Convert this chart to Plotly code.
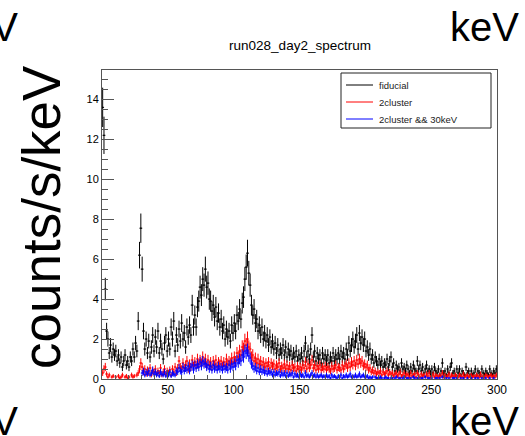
import math
import plotly.graph_objects as go

# Histogram binning (keV) and live time used for the statistical errors
E_MIN, E_MAX, BIN_W = 0.0, 300.0, 1.0
LIVE_TIME = 14.0  # s
n_bins = int((E_MAX - E_MIN) / BIN_W)
energy = [E_MIN + BIN_W * (i + 0.5) for i in range(n_bins)]

# counts/s/keV per 1 keV bin, ten bins per row
fiducial = [
    13.6, 12.2, 4.5, 2.4, 2.0, 1.3, 1.7, 1.1, 1.5, 1.2,
    1.4, 0.9, 1.2, 0.8, 1.1, 0.6, 0.9, 1.2, 0.7, 0.9,
    0.6, 1.1, 0.9, 1.5, 1.1, 1.8, 1.4, 2.9, 6.2, 7.55,
    5.5, 2.4, 1.5, 2.0, 1.3, 1.9, 1.1, 1.6, 2.2, 1.4,
    2.1, 1.6, 2.4, 1.3, 1.9, 1.5, 1.0, 1.8, 2.2, 1.4,
    2.0, 1.5, 2.6, 2.0, 2.9, 1.4, 2.2, 1.7, 2.5, 1.9,
    2.8, 2.0, 2.3, 1.6, 2.6, 2.1, 2.7, 2.2, 3.7, 2.6,
    3.2, 2.6, 3.6, 3.9, 4.6, 4.2, 5.0, 4.7, 5.5, 4.6,
    4.8, 4.0, 3.9, 3.4, 3.7, 3.1, 3.6, 2.9, 3.3, 2.6,
    3.0, 2.4, 2.7, 2.0, 2.5, 2.1, 2.4, 1.9, 2.7, 2.3,
    2.8, 2.4, 3.2, 2.9, 3.5, 3.0, 3.8, 4.1, 5.0, 5.6,
    6.3, 5.3, 4.7, 3.7, 3.2, 3.5, 2.8, 3.0, 2.4, 2.7,
    2.2, 2.6, 2.0, 2.3, 1.9, 2.2, 1.7, 2.1, 1.6, 1.9,
    1.5, 1.8, 1.3, 1.7, 1.2, 1.5, 1.3, 1.7, 1.2, 1.6,
    1.1, 1.5, 1.2, 1.4, 1.0, 1.3, 1.1, 1.4, 0.9, 1.2,
    1.0, 1.3, 0.9, 1.4, 1.8, 1.1, 1.4, 1.0, 1.5, 2.2,
    1.1, 1.4, 0.9, 1.3, 1.0, 1.2, 0.8, 1.3, 1.0, 1.2,
    0.9, 1.2, 0.8, 1.1, 0.9, 1.3, 0.9, 1.2, 1.0, 1.3,
    1.0, 1.4, 1.1, 1.3, 1.0, 1.5, 1.2, 1.8, 1.4, 1.7,
    2.0, 1.6, 1.9, 2.2, 1.5, 2.3, 1.8, 2.1, 1.7, 2.0,
    1.4, 1.6, 1.2, 1.5, 1.0, 1.2, 0.8, 1.1, 0.9, 0.7,
    1.0, 0.7, 0.9, 0.6, 0.8, 0.7, 1.0, 0.6, 0.9, 1.1,
    0.6, 0.8, 0.4, 0.7, 0.5, 0.6, 0.4, 0.8, 0.5, 0.6,
    0.4, 0.7, 0.5, 0.3, 0.6, 0.4, 0.7, 0.5, 0.4, 0.9,
    0.5, 0.7, 0.4, 0.6, 0.3, 0.5, 0.7, 0.4, 0.5, 0.3,
    0.5, 0.3, 0.6, 0.4, 0.3, 0.5, 0.2, 0.4, 0.8, 0.3,
    0.4, 0.2, 0.5, 0.3, 0.6, 0.8, 0.3, 0.4, 0.2, 0.5,
    0.3, 0.5, 0.2, 0.4, 0.3, 0.2, 0.6, 0.3, 0.4, 0.2,
    0.4, 0.2, 0.3, 0.5, 0.2, 0.4, 0.3, 0.2, 0.5, 0.3,
    0.2, 0.4, 0.3, 0.2, 0.5, 0.3, 0.2, 0.4, 0.3, 0.5,
]

# empty bins are left out (None)
two_cluster = [
    0.3, 0.5, 0.6, 0.25, 0.1, 0.2, None, 0.1, 0.15, None,
    0.1, None, 0.15, 0.05, 0.1, 0.2, None, 0.1, 0.15, 0.05,
    0.1, None, 0.2, 0.1, 0.15, None, 0.2, 0.3, 0.5, 0.8,
    0.6, 0.35, 0.5, 0.25, 0.45, 0.3, 0.55, 0.2, 0.4, 0.35,
    0.5, 0.25, 0.4, 0.3, 0.55, 0.2, 0.35, 0.5, 0.25, 0.4,
    0.3, 0.45, 0.2, 0.5, 0.35, 0.6, 0.3, 0.55, 0.9, 0.6,
    0.5, 0.8, 0.55, 0.7, 0.9, 0.5, 0.75, 0.6, 0.95, 0.65,
    0.85, 0.7, 1.0, 0.75, 0.95, 0.8, 1.1, 0.85, 1.0, 0.7,
    0.95, 0.7, 0.85, 0.6, 0.9, 0.7, 0.95, 0.65, 0.85, 0.75,
    0.9, 0.65, 0.85, 0.7, 1.0, 0.75, 0.9, 0.8, 1.05, 0.85,
    1.1, 0.9, 1.3, 1.1, 1.4, 1.2, 1.6, 1.5, 1.9, 1.7,
    2.0, 1.6, 1.5, 1.1, 1.2, 0.9, 1.05, 0.8, 1.0, 0.75,
    0.9, 0.7, 0.85, 0.6, 0.8, 0.65, 0.85, 0.55, 0.8, 0.65,
    0.75, 0.5, 0.7, 0.6, 0.8, 0.5, 0.65, 0.55, 0.75, 0.5,
    0.7, 0.5, 0.65, 0.45, 0.7, 0.55, 0.6, 0.4, 0.65, 0.5,
    0.6, 0.45, 0.7, 0.55, 0.85, 0.5, 0.75, 0.55, 0.7, 0.95,
    0.55, 0.7, 0.45, 0.65, 0.5, 0.7, 0.45, 0.6, 0.5, 0.65,
    0.45, 0.6, 0.5, 0.4, 0.65, 0.5, 0.55, 0.7, 0.45, 0.6,
    0.55, 0.45, 0.7, 0.5, 0.65, 0.75, 0.55, 0.8, 0.6, 0.85,
    0.7, 0.9, 0.65, 0.95, 0.75, 1.0, 0.8, 0.9, 0.65, 0.75,
    0.6, 0.7, 0.45, 0.55, 0.35, 0.45, 0.3, 0.4, 0.25, 0.35,
    0.3, 0.4, 0.2, 0.35, 0.25, 0.3, 0.4, 0.2, 0.35, 0.25,
    0.3, 0.15, 0.25, 0.3, 0.15, 0.25, 0.35, 0.15, 0.2, 0.3,
    0.15, 0.25, 0.2, 0.1, 0.3, 0.15, 0.2, 0.25, 0.1, 0.3,
    0.2, 0.1, 0.25, 0.15, 0.2, 0.1, 0.25, 0.15, 0.3, 0.1,
    0.15, 0.25, 0.1, 0.2, 0.15, 0.1, 0.2, 0.15, 0.3, 0.1,
    0.2, 0.1, 0.15, 0.25, 0.1, 0.2, 0.15, 0.1, 0.2, 0.15,
    0.1, 0.2, 0.15, 0.1, 0.25, 0.1, 0.15, 0.2, 0.1, 0.15,
    0.2, 0.1, 0.15, 0.1, 0.2, 0.15, 0.1, 0.25, 0.1, 0.15,
    0.1, 0.2, 0.15, 0.1, 0.15, 0.2, 0.1, 0.15, 0.1, 0.2,
]

# nothing is kept below 30 keV
two_cluster_30kev = [None] * 30 + [
    0.3, 0.4, 0.2, 0.35, 0.25, 0.4, 0.2, 0.3, 0.45, 0.25,
    0.35, 0.2, 0.3, 0.15, 0.35, 0.25, 0.2, 0.35, 0.15, 0.3,
    0.2, 0.35, 0.15, 0.3, 0.25, 0.2, 0.4, 0.35, 0.55, 0.4,
    0.35, 0.6, 0.4, 0.55, 0.45, 0.65, 0.4, 0.6, 0.7, 0.45,
    0.7, 0.55, 0.75, 0.6, 0.85, 0.65, 0.9, 0.75, 0.8, 0.6,
    0.7, 0.5, 0.65, 0.45, 0.7, 0.5, 0.6, 0.45, 0.65, 0.5,
    0.6, 0.45, 0.65, 0.5, 0.6, 0.45, 0.7, 0.5, 0.75, 0.6,
    0.8, 0.65, 0.95, 0.8, 1.0, 0.9, 1.2, 1.1, 1.4, 1.3,
    1.45, 1.15, 1.05, 0.75, 0.65, 0.5, 0.6, 0.4, 0.55, 0.35,
    0.5, 0.35, 0.45, 0.3, 0.4, 0.25, 0.4, 0.3, 0.35, 0.2,
    0.35, 0.2, 0.3, 0.25, 0.35, 0.15, 0.3, 0.2, 0.3, 0.15,
    0.3, 0.15, 0.25, 0.2, 0.3, 0.1, 0.25, 0.15, 0.2, 0.1,
    0.25, 0.15, 0.2, 0.1, 0.3, 0.15, 0.2, 0.1, 0.2, 0.3,
    0.15, 0.2, 0.1, 0.2, 0.1, 0.15, 0.2, 0.1, 0.15, 0.1,
    0.2, 0.1, 0.15, 0.05, 0.2, 0.1, 0.15, 0.1, 0.05, 0.15,
    0.1, 0.2, 0.05, 0.15, 0.1, 0.2, 0.1, 0.15, 0.25, 0.1,
    0.15, 0.1, 0.2, 0.1, 0.15, 0.25, 0.1, 0.15, 0.2, 0.1,
    0.1, 0.15, 0.05, 0.1, 0.05, 0.1, None, 0.1, 0.05, 0.05,
    0.05, 0.1, 0.05, None, 0.05, 0.1, 0.05, 0.05, None, 0.05,
    0.05, None, 0.05, 0.1, None, 0.05, 0.05, None, 0.05, 0.1,
    None, 0.05, 0.05, None, 0.05, None, 0.1, 0.05, None, 0.05,
    0.05, None, 0.05, 0.05, None, 0.1, None, 0.05, 0.05, None,
    0.05, None, None, 0.05, 0.05, None, 0.05, None, 0.1, None,
    None, 0.05, None, 0.05, None, None, 0.05, 0.05, None, 0.05,
    None, None, 0.05, None, 0.05, None, None, 0.05, None, None,
    0.05, None, None, 0.05, None, 0.05, None, None, 0.05, None,
    None, 0.05, None, None, 0.05, None, None, 0.05, None, None,
]

series = [
    ("fiducial", fiducial, "#000000"),
    ("2cluster", two_cluster, "#ff0000"),
    ("2cluster && 30keV", two_cluster_30kev, "#0000ff"),
]

FONT = "Liberation Sans, Arial, Helvetica, sans-serif"
AXIS_COLOR = "#555555"


def poisson_err(rates):
    """Statistical error of a rate histogram bin (counts/s/keV)."""
    return [None if r is None else math.sqrt(r / (LIVE_TIME * BIN_W)) for r in rates]


fig = go.Figure()

# histogram points: small horizontal marker, x bar = bin width, y bar = statistical error
for name, values, color in series:
    fig.add_trace(go.Scatter(
        x=energy, y=values, mode="markers",
        marker=dict(symbol="line-ew", size=2, color=color, line=dict(width=1, color=color)),
        error_x=dict(type="constant", value=BIN_W / 2, thickness=1, width=0, color=color),
        error_y=dict(type="data", array=poisson_err(values), thickness=1, width=0,
                     color=color, visible=True),
        name=name, showlegend=False, cliponaxis=True,
    ))

L, R, T, B = 102, 28, 70, 57
W, H = 525, 436
pw, ph = W - L - R, H - T - B


def px_x(px):
    return (px - L) / pw


def px_y(py):
    return (H - B - py) / ph


# big axis-unit labels around the pad
big = dict(family=FONT, size=40, color="black")
for ax_px, ay_px in [(521, 27), (20, 27), (521, 421), (20, 421)]:
    fig.add_annotation(text="keV", x=px_x(ax_px), y=px_y(ay_px), xref="paper", yref="paper",
                       xanchor="right", yanchor="middle", showarrow=False, font=big)
fig.add_annotation(text="counts/s/keV", x=px_x(41), y=px_y(217), xref="paper", yref="paper",
                   xanchor="center", yanchor="middle", textangle=-90, showarrow=False,
                   font=dict(family=FONT, size=53, color="black"))

# legend box with line samples
LEG_X0, LEG_X1, LEG_Y0, LEG_Y1 = 341, 491, 73, 128
fig.add_shape(type="rect", xref="paper", yref="paper",
              x0=px_x(LEG_X0), x1=px_x(LEG_X1), y0=px_y(LEG_Y1), y1=px_y(LEG_Y0),
              line=dict(color="#222222", width=1), fillcolor="white", layer="above")
for k, (name, _, color) in enumerate(series):
    row_y = 85 + 17 * k
    fig.add_shape(type="line", xref="paper", yref="paper",
                  x0=px_x(346), x1=px_x(373), y0=px_y(row_y), y1=px_y(row_y),
                  line=dict(color=color, width=1), layer="above")
    fig.add_annotation(text=name, x=px_x(377), y=px_y(row_y), xref="paper", yref="paper",
                       xanchor="left", yanchor="middle", showarrow=False,
                       font=dict(family=FONT, size=9.5, color="#222222"))

fig.update_layout(
    width=W, height=H,
    margin=dict(l=L, r=R, t=T, b=B),
    paper_bgcolor="white", plot_bgcolor="white",
    font=dict(family=FONT, color="black"),
    title=dict(text="run028_day2_spectrum", x=300 / W, xref="container", xanchor="center",
               y=1 - 45 / H, yref="container", yanchor="middle",
               font=dict(family=FONT, size=13.5, color="black")),
    showlegend=False,
    xaxis=dict(range=[E_MIN, E_MAX], showgrid=False, zeroline=False,
               showline=True, linecolor=AXIS_COLOR, linewidth=1, mirror=True,
               ticks="inside", ticklen=9, tickwidth=1, tickcolor=AXIS_COLOR,
               tick0=0, dtick=50, tickfont=dict(family=FONT, size=12, color="black"),
               minor=dict(ticks="inside", ticklen=4, dtick=10, tickcolor=AXIS_COLOR)),
    yaxis=dict(range=[0, 15.47], showgrid=False, zeroline=False,
               showline=True, linecolor=AXIS_COLOR, linewidth=1, mirror=True,
               ticks="inside", ticklen=12, tickwidth=1, tickcolor=AXIS_COLOR,
               tick0=0, dtick=2, tickfont=dict(family=FONT, size=11, color="black"),
               minor=dict(ticks="inside", ticklen=6, dtick=0.5, tickcolor=AXIS_COLOR)),
)

fig.write_html("out.html")
